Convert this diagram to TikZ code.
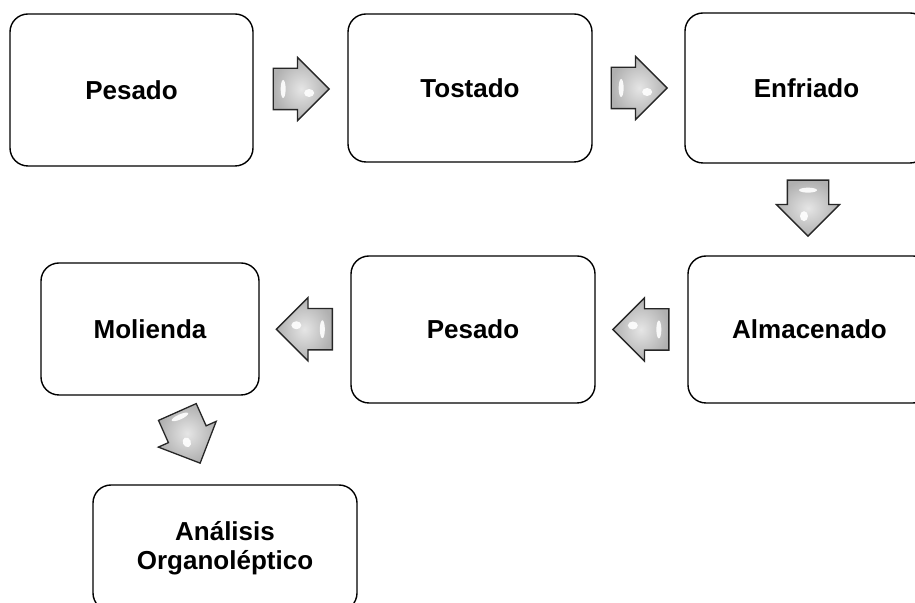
\documentclass[tikz,border=0pt]{standalone}
\usepackage{fontspec}
\setmainfont{Liberation Sans}
\usetikzlibrary{positioning,calc,shapes.arrows}

\tikzset{
  etapa/.style={draw, line width=1.4pt, rounded corners=18pt, fill=white,
    inner sep=0pt, align=center, font=\fontsize{26}{29}\selectfont\bfseries},
  flecha/.style={single arrow, draw=black!85, line width=1.3pt, shade,
    inner color=gray!20, outer color=gray!62, minimum height=56pt,
    minimum width=62pt, single arrow head extend=11pt,
    single arrow head indent=0pt, inner xsep=0pt, inner ysep=20pt, anchor=tail,
    path picture={
      \fill[white, opacity=.9] ($(path picture bounding box.center)+(-18pt,0pt)$) ellipse (2.5pt and 9pt);
      \fill[white, opacity=.9] ($(path picture bounding box.center)+(8pt,-4pt)$) ellipse (5pt and 4pt);
    }},
}

\begin{document}
\begin{tikzpicture}[x=1pt, y=1pt]
  \useasboundingbox (0,0) rectangle (915,602);
  \clip (0,0) rectangle (915,602);

  % etapas del proceso
  \node[etapa, minimum width=243pt, minimum height=152pt] (pesado1) at (131.5,512) {Pesado};
  \node[etapa, minimum width=244pt, minimum height=148pt] (tostado) at (470,514) {Tostado};
  \node[etapa, minimum width=243pt, minimum height=150pt] (enfriado) at (806.5,514) {Enfriado};
  \node[etapa, minimum width=243pt, minimum height=147pt] (almacenado) at (809.5,272.5) {Almacenado};
  \node[etapa, minimum width=244pt, minimum height=147pt] (pesado2) at (473,272.5) {Pesado};
  \node[etapa, minimum width=218pt, minimum height=132pt] (molienda) at (150,273) {Molienda};
  \node[etapa, minimum width=264pt, minimum height=126pt] (analisis) at (225,54) {Análisis\\Organoléptico};

  % flechas (colocadas por la cola)
  \node[flecha] (f1) at ($(pesado1.east)!0.5!(tostado.west)+(-28,0)$) {};
  \node[flecha] (f2) at ($(tostado.east)!0.5!(enfriado.west)+(-28,0)$) {};
  \node[flecha, rotate=-90] (f3) at ($(enfriado.south)!0.5!(almacenado.north)+(0,30)$) {};
  \node[flecha, rotate=180] (f4) at ($(almacenado.west)!0.5!(pesado2.east)+(28,0)$) {};
  \node[flecha, rotate=180] (f5) at ($(pesado2.west)!0.5!(molienda.east)+(28,0)$) {};
  \node[flecha, rotate=-66] (f6) at ($(molienda.south)!0.5!(analisis.north)+(-10.4,28.6)$) {};
\end{tikzpicture}
\end{document}
